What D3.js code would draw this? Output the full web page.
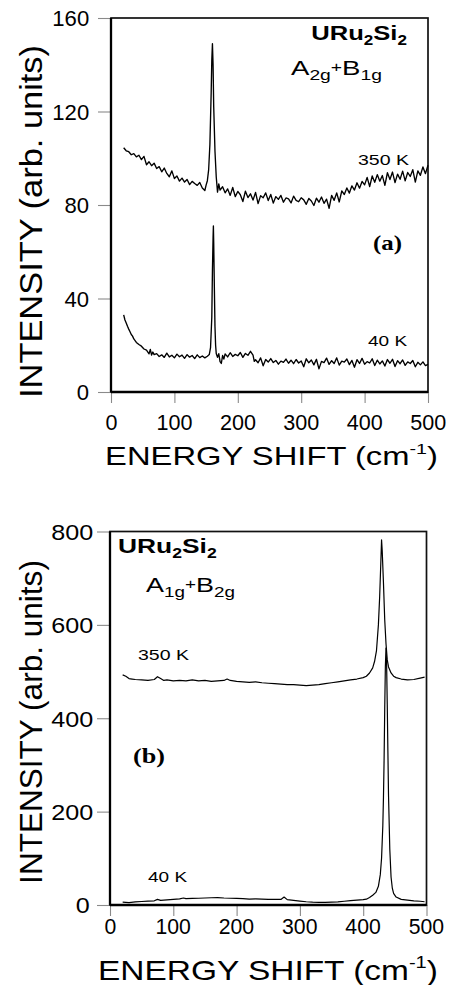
<!DOCTYPE html>
<html><head><meta charset="utf-8">
<script src="https://cdn.jsdelivr.net/npm/d3@7"></script>
<style>body{margin:0;background:#fff}svg{display:block}</style>
</head><body>
<svg id="c" width="451" height="985"></svg>
<script>
// ---------- DATA ----------
const xTicks = [0, 100, 200, 300, 400, 500];
const yTicksA = [0, 40, 80, 120, 160];
const yTicksB = [0, 200, 400, 600, 800];

// Panel (a): A2g + B1g, 350 K
const shiftA350 = [20,24,28,32,36,40,44,48,52,56,60,64,68,72,76,80,84,88,92,96,100,104,108,112,116,120,124,128,132,136,140,144,148,150,152,154,156,158,159,160,161,162,164,166,168,170,172,176,180,184,188,192,196,200,204,208,212,216,220,224,228,232,236,240,244,248,252,256,260,264,268,272,276,280,284,288,292,296,300,304,308,312,316,320,324,328,332,336,340,344,348,352,356,360,364,368,372,376,380,384,388,392,396,400,404,408,412,416,420,424,428,432,436,440,444,448,452,456,460,464,468,472,476,480,484,488,492,496,500];
const intA350 = [104.5,103.2,102.8,101.5,102.0,100.6,101.3,99.4,100.8,97.2,98.5,96.8,97.9,95.6,96.4,94.2,95.8,93.5,92.1,94.6,91.3,92.4,90.2,91.5,89.8,90.9,88.7,90.1,89.2,88.4,89.6,87.3,86.2,88.5,90.4,95,106,128,142,149,140,122,103,92,85.5,89.0,86.4,87.8,85.2,86.9,84.1,87.5,83.6,85.8,84.4,81.5,85.9,83.2,84.8,82.1,85.4,80.6,84.0,83.1,85.2,81.9,84.5,80.8,83.6,82.4,84.1,81.2,83.0,82.6,80.9,83.8,82.0,81.4,83.1,82.2,80.3,82.8,81.7,79.8,82.9,81.2,83.4,80.7,82.5,78.6,84.1,82.0,85.2,81.3,86.0,84.5,87.3,85.1,88.2,86.4,89.5,87.2,90.1,88.6,91.8,87.9,92.4,89.7,93.0,90.2,92.6,88.4,93.8,90.9,94.1,89.6,93.2,91.0,94.5,90.3,93.9,92.2,95.1,89.8,94.6,92.7,96.3,93.4,97.0];

// Panel (a): A2g + B1g, 40 K
const shiftA40 = [20,22,24,26,28,30,32,34,36,38,40,44,48,52,56,60,62,64,66,68,72,76,80,84,88,92,96,100,104,108,112,116,120,124,128,132,136,140,144,148,152,155,157,159,160,161,161.5,162,163,164,165,166,168,170,172,174,176,178,180,184,188,192,196,200,204,208,212,216,220,224,226,228,232,236,240,244,248,252,256,260,264,268,272,276,280,284,288,292,296,300,304,308,312,316,320,324,328,332,336,340,344,348,352,356,360,364,368,372,376,380,384,388,392,396,400,404,408,412,416,420,424,428,432,436,440,444,448,452,456,460,464,468,472,476,480,484,488,492,496,500];
const intA40 = [33.0,30.8,29.5,28.1,26.9,25.8,24.6,23.9,22.7,22.0,21.2,20.3,19.6,18.4,17.9,16.3,18.2,15.8,17.1,16.0,16.4,15.2,15.9,14.8,16.6,15.0,15.7,14.6,16.2,15.1,15.8,14.4,16.0,14.9,15.6,14.3,15.9,14.7,15.4,14.6,15.3,16.0,19.0,32,52,66,71,64,45,28,20,16.5,14.8,16.4,13.0,12.2,15.6,14.1,16.3,15.0,16.8,15.2,16.1,15.5,16.9,14.8,16.5,15.7,17.4,15.8,13.1,13.8,12.5,14.6,11.2,13.9,12.8,14.3,12.6,13.5,11.9,13.2,12.7,14.1,12.3,13.6,12.1,13.9,12.4,13.3,10.8,14.2,12.5,13.7,11.6,14.0,9.9,13.1,12.6,14.5,11.8,13.4,12.2,14.6,11.5,13.2,12.8,14.1,11.7,13.5,10.6,13.8,12.2,14.4,11.9,13.0,12.4,14.2,11.3,13.6,12.0,13.3,11.1,13.9,12.3,14.0,10.9,13.4,12.1,13.7,11.4,12.9,12.2,13.5,10.8,12.7,11.6,12.9,11.3,11.8];

// Panel (b): A1g + B2g, 350 K
const shiftB350 = [20,25,30,35,40,50,60,70,75,80,85,90,100,110,120,130,140,150,160,170,180,185,190,200,210,220,230,240,250,260,270,280,290,300,310,320,330,340,350,360,370,380,390,400,405,410,415,418,421,424,426,428,429,430,432,434,436,438,440,444,448,452,460,470,480,490,497];
const intB350 = [493,490,485,484,483,482,481,483,489,485,481,482,480,481,480,482,480,481,479,480,481,484,481,479,478,477,478,476,475,474,473,472,472,471,470,471,472,474,476,478,480,482,484,487,490,497,508,522,545,600,660,740,782,760,690,611,560,525,510,497,490,487,484,482,483,486,488];

// Panel (b): A1g + B2g, 40 K
const shiftB40 = [20,30,40,50,60,70,75,80,90,100,110,116,120,130,140,150,160,170,180,190,200,210,220,230,240,250,260,270,275,280,290,300,310,320,330,340,350,360,370,380,390,400,405,410,415,420,424,427,429,431,432,433,434,435,436,437,438,439,440,442,444,446,448,452,460,470,480,490,497];
const intB40 = [6,5,6.5,7.5,8.5,9,12,10,11,12,13,15,13.5,14,14.5,15,15.5,16,15,14.5,14,13.5,12.6,13,12.5,12,12.2,12,17,11.5,10,8.5,7,6,5.6,5.5,6,6.5,8,9.5,10.5,11.5,12.5,16,21,27,40,65,100,170,230,310,420,510,550,515,430,330,235,120,60,36,25,17,12,10.5,9,8,7];

// ---------- DRAWING ----------
const svg = d3.select('#c');
const SANS = "'Liberation Sans', Arial, Helvetica, sans-serif";
const SERIF = "'Liberation Serif', 'Times New Roman', serif";

function fit(sel, target) {
  const node = sel.node();
  const bb = node.getBBox();
  const anchor = sel.attr('text-anchor') || 'start';
  let x0 = bb.x;
  if (anchor === 'end') x0 = bb.x + bb.width;
  else if (anchor === 'middle') x0 = bb.x + bb.width / 2;
  const s = target / bb.width;
  sel.attr('transform', `translate(${x0},0) scale(${s},1) translate(${-x0},0)`);
}

function addText(x, y, parts, opts) {
  const t = svg.append('text').attr('x', x).attr('y', y)
    .attr('text-anchor', opts.anchor || 'start')
    .attr('font-family', opts.family || SANS)
    .attr('font-weight', opts.weight || 'normal')
    .attr('font-size', opts.size).attr('fill', '#000');
  let curDy = 0;
  parts.forEach(p => {
    const dy = (p.dy || 0) - curDy;
    curDy = p.dy || 0;
    const ts = t.append('tspan').text(p.t).attr('dy', dy);
    if (p.size) ts.attr('font-size', p.size);
  });
  if (opts.width) fit(t, opts.width);
  return t;
}

function panel(cfg) {
  const x = d3.scaleLinear().domain([0, 500]).range([cfg.x0, cfg.x1]);
  const y = d3.scaleLinear().domain(cfg.ydom).range([cfg.yb, cfg.yt]);
  const g = svg.append('g');

  const ya = g.append('g').attr('transform', `translate(${cfg.x0},0)`)
    .call(d3.axisLeft(y).tickValues(cfg.yticks).tickSize(13).tickPadding(9));
  const xa = g.append('g').attr('transform', `translate(0,${cfg.yb})`)
    .call(d3.axisBottom(x).tickValues(xTicks).tickSize(11).tickFormat(d3.format('d')));
  [ya, xa].forEach(a => {
    a.select('.domain').remove();
    a.selectAll('.tick line').attr('stroke', '#8a8a8a').attr('stroke-width', 1.1);
    a.selectAll('.tick text').attr('font-family', SANS).attr('font-size', 22).attr('fill', '#000');
  });
  ya.selectAll('.tick text').attr('dy', '0.36em').each(function(d) {
    fit(d3.select(this), String(d).length * cfg.yDigitW);
  });
  xa.selectAll('.tick text').attr('y', cfg.xLabBase - cfg.yb).attr('dy', 0).each(function(d) {
    fit(d3.select(this), String(d).length * cfg.xDigitW);
  });

  g.append('rect').attr('x', cfg.x0).attr('y', cfg.yt)
    .attr('width', cfg.x1 - cfg.x0).attr('height', cfg.yb - cfg.yt)
    .attr('fill', 'none').attr('stroke', '#111').attr('stroke-width', 1.7);
  g.append('line').attr('x1', cfg.x0).attr('x2', cfg.x0).attr('y1', cfg.yt).attr('y2', cfg.yb)
    .attr('stroke', '#000').attr('stroke-width', 2.3);
  g.append('line').attr('x1', cfg.x0).attr('x2', cfg.x1).attr('y1', cfg.yb).attr('y2', cfg.yb)
    .attr('stroke', '#000').attr('stroke-width', 2.3);

  const line = d3.line().x(d => x(d[0])).y(d => y(d[1]));
  cfg.series.forEach(s => {
    const pts = s.xs.map((v, i) => [v, s.ys[i]]);
    g.append('path').datum(pts).attr('d', line)
      .attr('fill', 'none').attr('stroke', '#000').attr('stroke-width', cfg.lw)
      .attr('stroke-linejoin', 'round');
  });

  const yt = svg.append('g').attr('transform', `translate(${cfg.yTitleX},${cfg.yTitleC}) rotate(-90)`);
  const ytt = yt.append('text').attr('x', 0).attr('y', 0).attr('text-anchor', 'middle')
    .attr('font-family', SANS).attr('font-size', cfg.yTitleSize).text('INTENSITY (arb. units)');
  fit(ytt, cfg.yTitleLen);

  addText((cfg.xTitleL + cfg.xTitleR) / 2, cfg.xTitleBase, [
    {t: 'ENERGY SHIFT (cm'}, {t: '-1', size: cfg.xTitleSize * 0.6, dy: -cfg.xTitleSize * 0.42}, {t: ')', dy: 0}
  ], {anchor: 'middle', size: cfg.xTitleSize, width: cfg.xTitleR - cfg.xTitleL});
  return {x, y};
}

panel({
  x0: 111, x1: 428, yb: 392, yt: 18, ydom: [0, 160], yticks: yTicksA,
  xLabBase: 430, yDigitW: 12.3, xDigitW: 12.0, lw: 1.35,
  yTitleX: 42, yTitleC: 221.5, yTitleLen: 353, yTitleSize: 32,
  xTitleL: 105, xTitleR: 438, xTitleBase: 465, xTitleSize: 25,
  series: [{xs: shiftA350, ys: intA350}, {xs: shiftA40, ys: intA40}]
});
panel({
  x0: 110, x1: 426.5, yb: 905, yt: 531.5, ydom: [0, 800], yticks: yTicksB,
  xLabBase: 934, yDigitW: 14.0, xDigitW: 11.8, lw: 1.2,
  yTitleX: 42, yTitleC: 722, yTitleLen: 324, yTitleSize: 32,
  xTitleL: 98, xTitleR: 438, xTitleBase: 980, xTitleSize: 28,
  series: [{xs: shiftB350, ys: intB350}, {xs: shiftB40, ys: intB40}]
});

addText(407, 40, [{t: 'URu'}, {t: '2', size: 14, dy: 5}, {t: 'Si', dy: 0}, {t: '2', size: 14, dy: 5}],
  {anchor: 'end', size: 21, weight: 'bold', width: 96});
addText(291, 75, [{t: 'A'}, {t: '2g', size: 14, dy: 5}, {t: '+', size: 14, dy: -3}, {t: 'B', dy: 0}, {t: '1g', size: 14, dy: 5}],
  {anchor: 'start', size: 20, width: 91});
addText(358, 165, [{t: '350 K'}], {size: 14, width: 52});
addText(373, 250, [{t: '(a)'}], {size: 21, weight: 'bold', family: SERIF, width: 29});
addText(368, 346, [{t: '40 K'}], {size: 14, width: 40});

addText(118, 553, [{t: 'URu'}, {t: '2', size: 14, dy: 5}, {t: 'Si', dy: 0}, {t: '2', size: 14, dy: 5}],
  {anchor: 'start', size: 21, weight: 'bold', width: 99});
addText(146, 592, [{t: 'A'}, {t: '1g', size: 14, dy: 5}, {t: '+', size: 14, dy: -3}, {t: 'B', dy: 0}, {t: '2g', size: 14, dy: 5}],
  {anchor: 'start', size: 20, width: 89});
addText(138, 660, [{t: '350 K'}], {size: 14, width: 52});
addText(133, 763, [{t: '(b)'}], {size: 21, weight: 'bold', family: SERIF, width: 32});
addText(148, 882, [{t: '40 K'}], {size: 14, width: 40});
</script>
</body></html>
